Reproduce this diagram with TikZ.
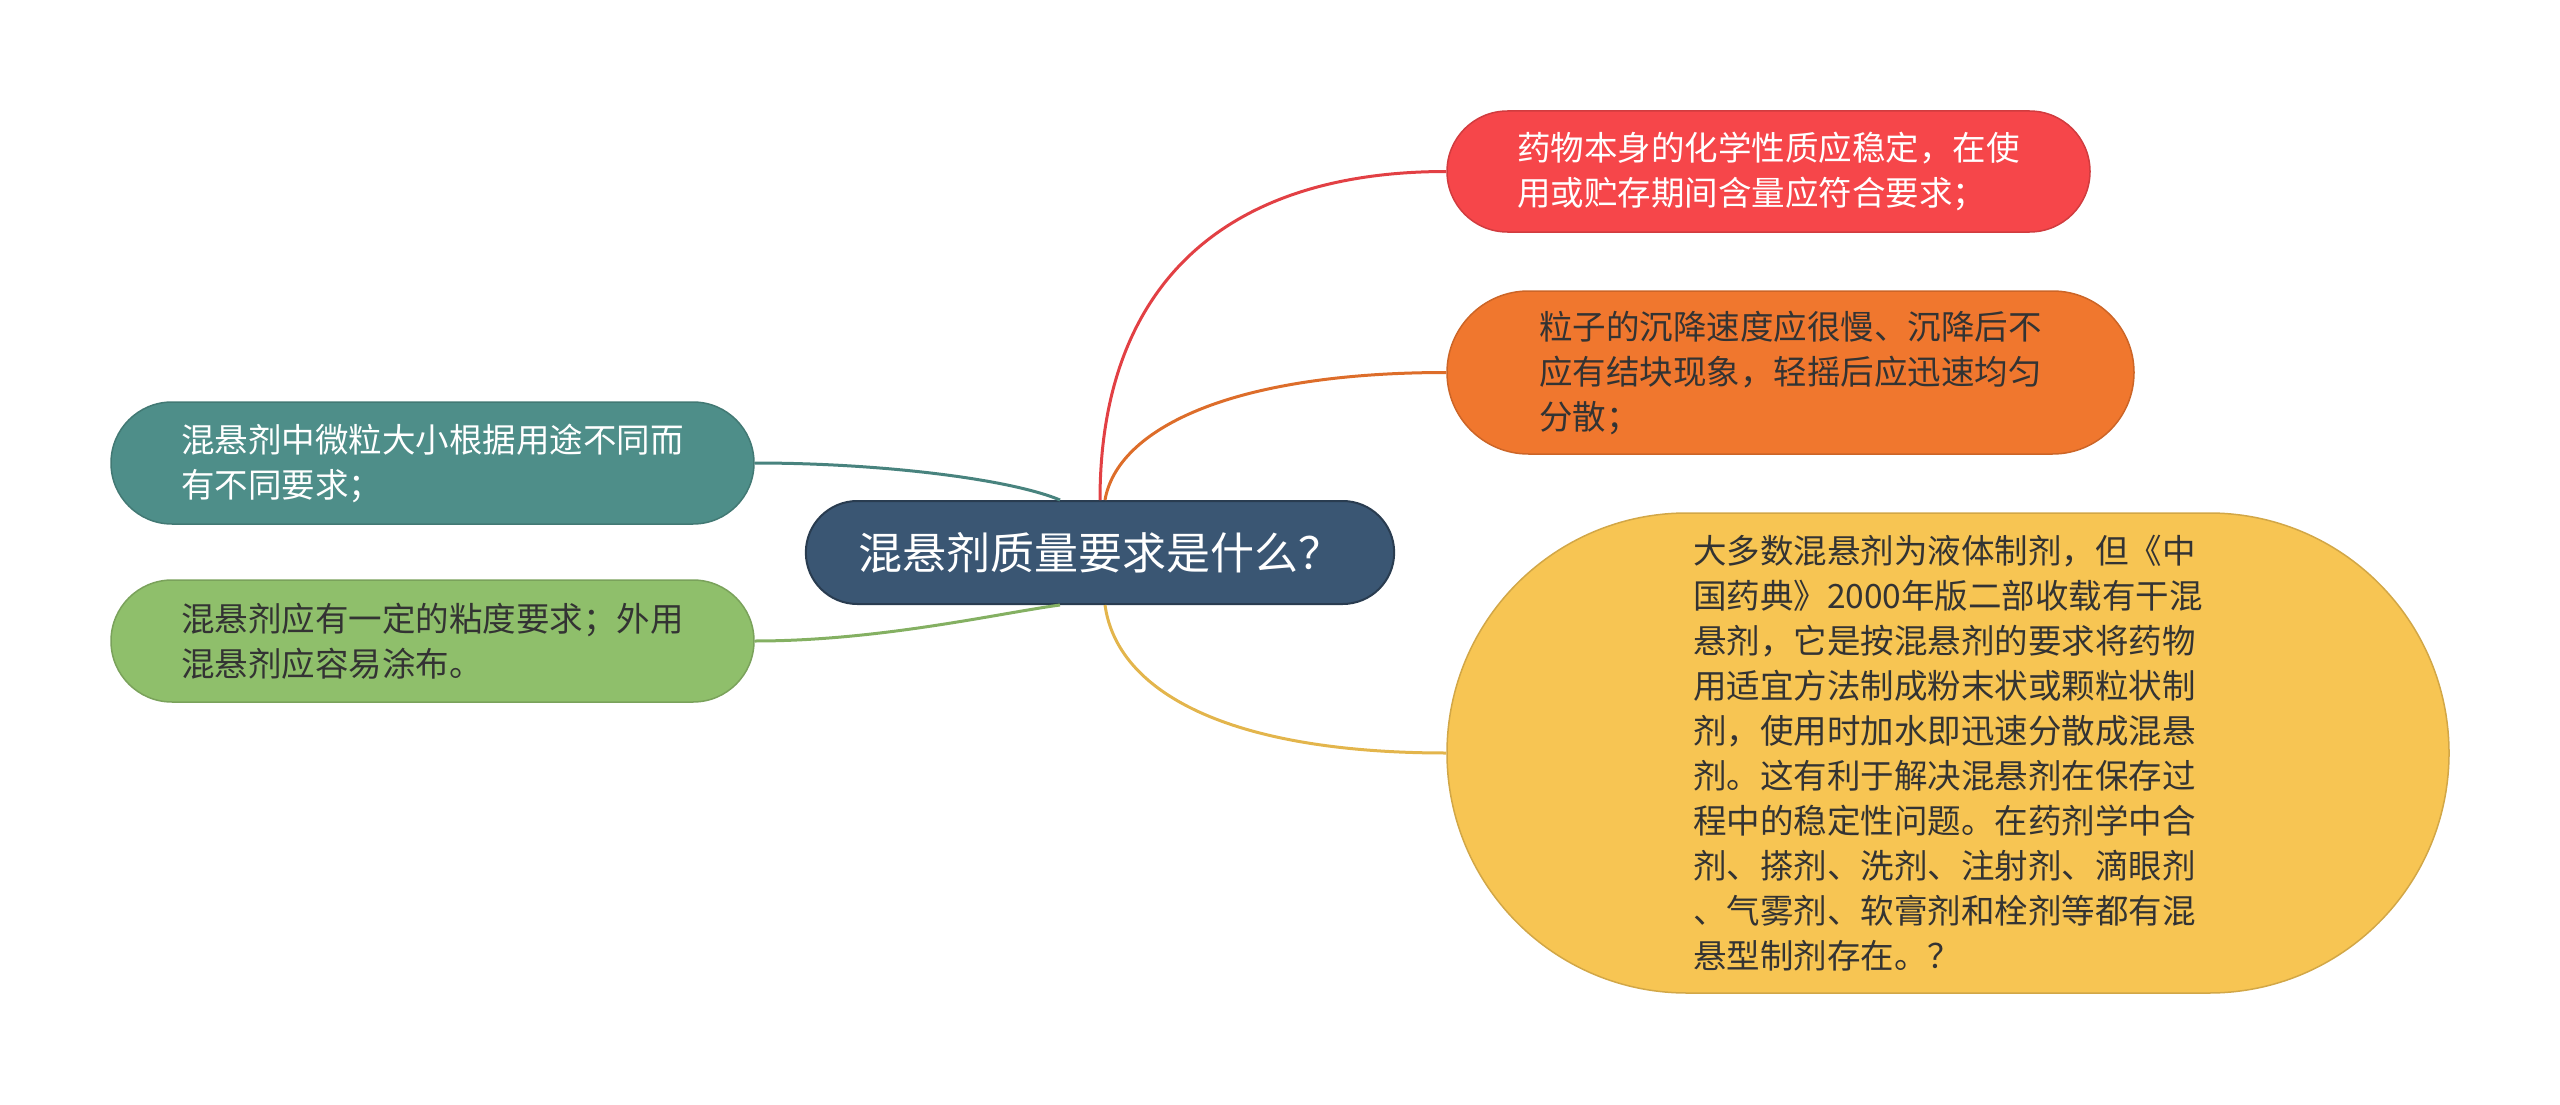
\documentclass[tikz,border=0pt]{standalone}
\usepackage{fontspec}
\setmainfont{Noto Sans CJK SC}
\usetikzlibrary{shapes.misc}
\definecolor{qblue}{HTML}{3A5673}
\definecolor{lred}{HTML}{F6464A}
\definecolor{lorange}{HTML}{F0772E}
\definecolor{lyellow}{HTML}{F7C553}
\definecolor{lteal}{HTML}{4E8E89}
\definecolor{lgreen}{HTML}{8FBF6B}
\definecolor{ltext}{HTML}{333333}
\newcommand{\leaffont}{\fontsize{33.5}{45}\selectfont}

\begin{document}
\begin{tikzpicture}[x=1pt,y=-1pt,
	leaf/.style={rounded rectangle,fill=#1,draw=#1!85!black,line width=1.5pt,align=left,inner sep=0pt,font=\leaffont},
	conn/.style={line width=3pt,draw=#1!92!black}]
		\useasboundingbox (0,0) rectangle (2560,1105);
		\node[rounded rectangle,fill=qblue,draw=qblue!70!black,line width=2pt,text=white,font=\fontsize{44}{52}\selectfont,minimum width=595pt,minimum height=103pt] (q) at (1100,552.5) {混悬剂质量要求是什么？};
		\node[leaf=lred,text=white,minimum width=643pt,minimum height=121pt] (a1) at (1768.5,171.5) {药物本身的化学性质应稳定，在使\\用或贮存期间含量应符合要求；};
		\draw[conn=lred] (q.north) .. controls +(0,-213) and +(-224,0) .. (a1.west);
		\node[leaf=lorange,text=ltext,minimum width=687pt,minimum height=163pt] (a2) at (1790.5,372.5) {粒子的沉降速度应很慢、沉降后不\\应有结块现象，轻摇后应迅速均匀\\分散；};
		\draw[conn=lorange] ([xshift=5pt]q.north) .. controls +(12,-70) and +(-218,0) .. (a2.west);
		\node[leaf=lyellow,text=ltext,minimum width=1002pt,minimum height=480pt] (a3) at (1948,753) {大多数混悬剂为液体制剂，但《中\\国药典》2000年版二部收载有干混\\悬剂，它是按混悬剂的要求将药物\\用适宜方法制成粉末状或颗粒状制\\剂，使用时加水即迅速分散成混悬\\剂。这有利于解决混悬剂在保存过\\程中的稳定性问题。在药剂学中合\\剂、搽剂、洗剂、注射剂、滴眼剂\\、气雾剂、软膏剂和栓剂等都有混\\悬型制剂存在。？};
		\draw[conn=lyellow] ([xshift=5pt]q.south) .. controls +(12,87) and +(-218,0) .. (a3.west);
		\node[leaf=lteal,text=white,minimum width=643pt,minimum height=122pt] (a4) at (432.5,463) {混悬剂中微粒大小根据用途不同而\\有不同要求；};
		\draw[conn=lteal] ([xshift=-40pt]q.north) .. controls +(-50,-21) and +(126,0) .. (a4.east);
		\node[leaf=lgreen,text=ltext,minimum width=643pt,minimum height=122pt] (a5) at (432.5,641) {混悬剂应有一定的粘度要求；外用\\混悬剂应容易涂布。};
		\draw[conn=lgreen] ([xshift=-40pt]q.south) .. controls +(-60,8) and +(125,0) .. (a5.east);
	\end{tikzpicture}
\end{document}
